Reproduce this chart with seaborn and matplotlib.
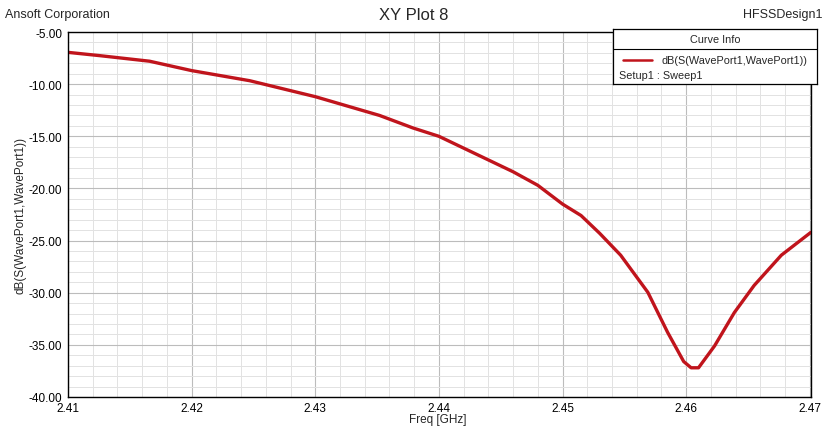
import pandas as pd
import numpy as np
import matplotlib
matplotlib.use('Agg')
import matplotlib.pyplot as plt
import seaborn as sns
from matplotlib.ticker import MultipleLocator, FormatStrFormatter

# values
freq_ghz = [2.4100, 2.4126, 2.4166, 2.4200, 2.4247, 2.4300, 2.4352,
            2.4379, 2.4400, 2.4430, 2.4460, 2.4480, 2.4500, 2.4515, 2.4530,
            2.4547, 2.4569, 2.4585, 2.4598, 2.4604, 2.4610, 2.4623, 2.4639,
            2.4655, 2.4677, 2.4701]
s11_db = [-6.95, -7.27, -7.8, -8.7, -9.67, -11.2, -13.0,
          -14.2, -15.0, -16.7, -18.4, -19.7, -21.5, -22.6, -24.3,
          -26.4, -29.96, -33.8, -36.6, -37.2, -37.2, -35.1, -31.9,
          -29.3, -26.4, -24.2]
x_ticks = [2.41, 2.42, 2.43, 2.44, 2.45, 2.46, 2.47]

df = pd.DataFrame({'freq': freq_ghz, 'db': s11_db})

sns.set_style('white')
plt.rcParams['font.family'] = ['Liberation Sans', 'DejaVu Sans']

fig = plt.figure(figsize=(8.28, 4.31), dpi=100)
ax = fig.add_axes([0.0821, 0.0766, 0.8974, 0.8468])

line_col = '#c0141c'
sns.lineplot(data=df, x='freq', y='db', ax=ax, color=line_col, linewidth=2.4)

ax.set_xlim(2.41, 2.4701)
ax.set_ylim(-40, -5)
ax.set_xticks(x_ticks)
ax.xaxis.set_major_formatter(FormatStrFormatter('%.2f'))
ax.xaxis.set_minor_locator(MultipleLocator(0.002))
ax.yaxis.set_major_locator(MultipleLocator(5))
ax.yaxis.set_minor_locator(MultipleLocator(1))
ax.yaxis.set_major_formatter(FormatStrFormatter('%.2f'))

ax.grid(which='major', color='#bcbcbc', linewidth=0.8)
ax.grid(which='minor', color='#e2e2e2', linewidth=0.7)
ax.set_axisbelow(True)

for s in ax.spines.values():
    s.set_color('black')
    s.set_linewidth(1.0)

ax.tick_params(which='major', direction='out', length=4, width=0.8,
               labelsize=8.5, colors='black', pad=1)
ax.tick_params(which='minor', direction='out', length=2.5, width=0.6)
ax.tick_params(axis='y', which='both', direction='inout', length=6)
ax.tick_params(axis='x', which='both', direction='inout', length=5)

ax.set_xlabel('Freq [GHz]', fontsize=8.5, labelpad=0)
ax.set_ylabel('dB(S(WavePort1,WavePort1))', fontsize=8.5, labelpad=2)
ax.xaxis.set_label_coords(0.497, -0.045)

fig.text(0.006, 0.98, 'Ansoft Corporation', fontsize=9, ha='left', va='top')
fig.text(0.5, 0.982, 'XY Plot 8', fontsize=12, ha='center', va='top')
fig.text(0.993, 0.98, 'HFSSDesign1', fontsize=9, ha='right', va='top')

# curve info box
leg = fig.add_axes([613 / 828, 1 - 85 / 431, 204 / 828, 55 / 431])
leg.set_xlim(0, 1)
leg.set_ylim(0, 1)
leg.set_xticks([])
leg.set_yticks([])
leg.set_facecolor('white')
for s in leg.spines.values():
    s.set_color('black')
    s.set_linewidth(0.9)
leg.axhline(0.64, color='black', linewidth=0.8)
leg.text(0.5, 0.82, 'Curve Info', fontsize=7.8, ha='center', va='center')
leg.plot([0.05, 0.19], [0.44, 0.44], color=line_col, linewidth=1.8)
leg.text(0.24, 0.44, 'dB(S(WavePort1,WavePort1))', fontsize=7.8,
         ha='left', va='center')
leg.text(0.03, 0.17, 'Setup1 : Sweep1', fontsize=7.8, ha='left', va='center')

fig.savefig('out.png', dpi=100)
